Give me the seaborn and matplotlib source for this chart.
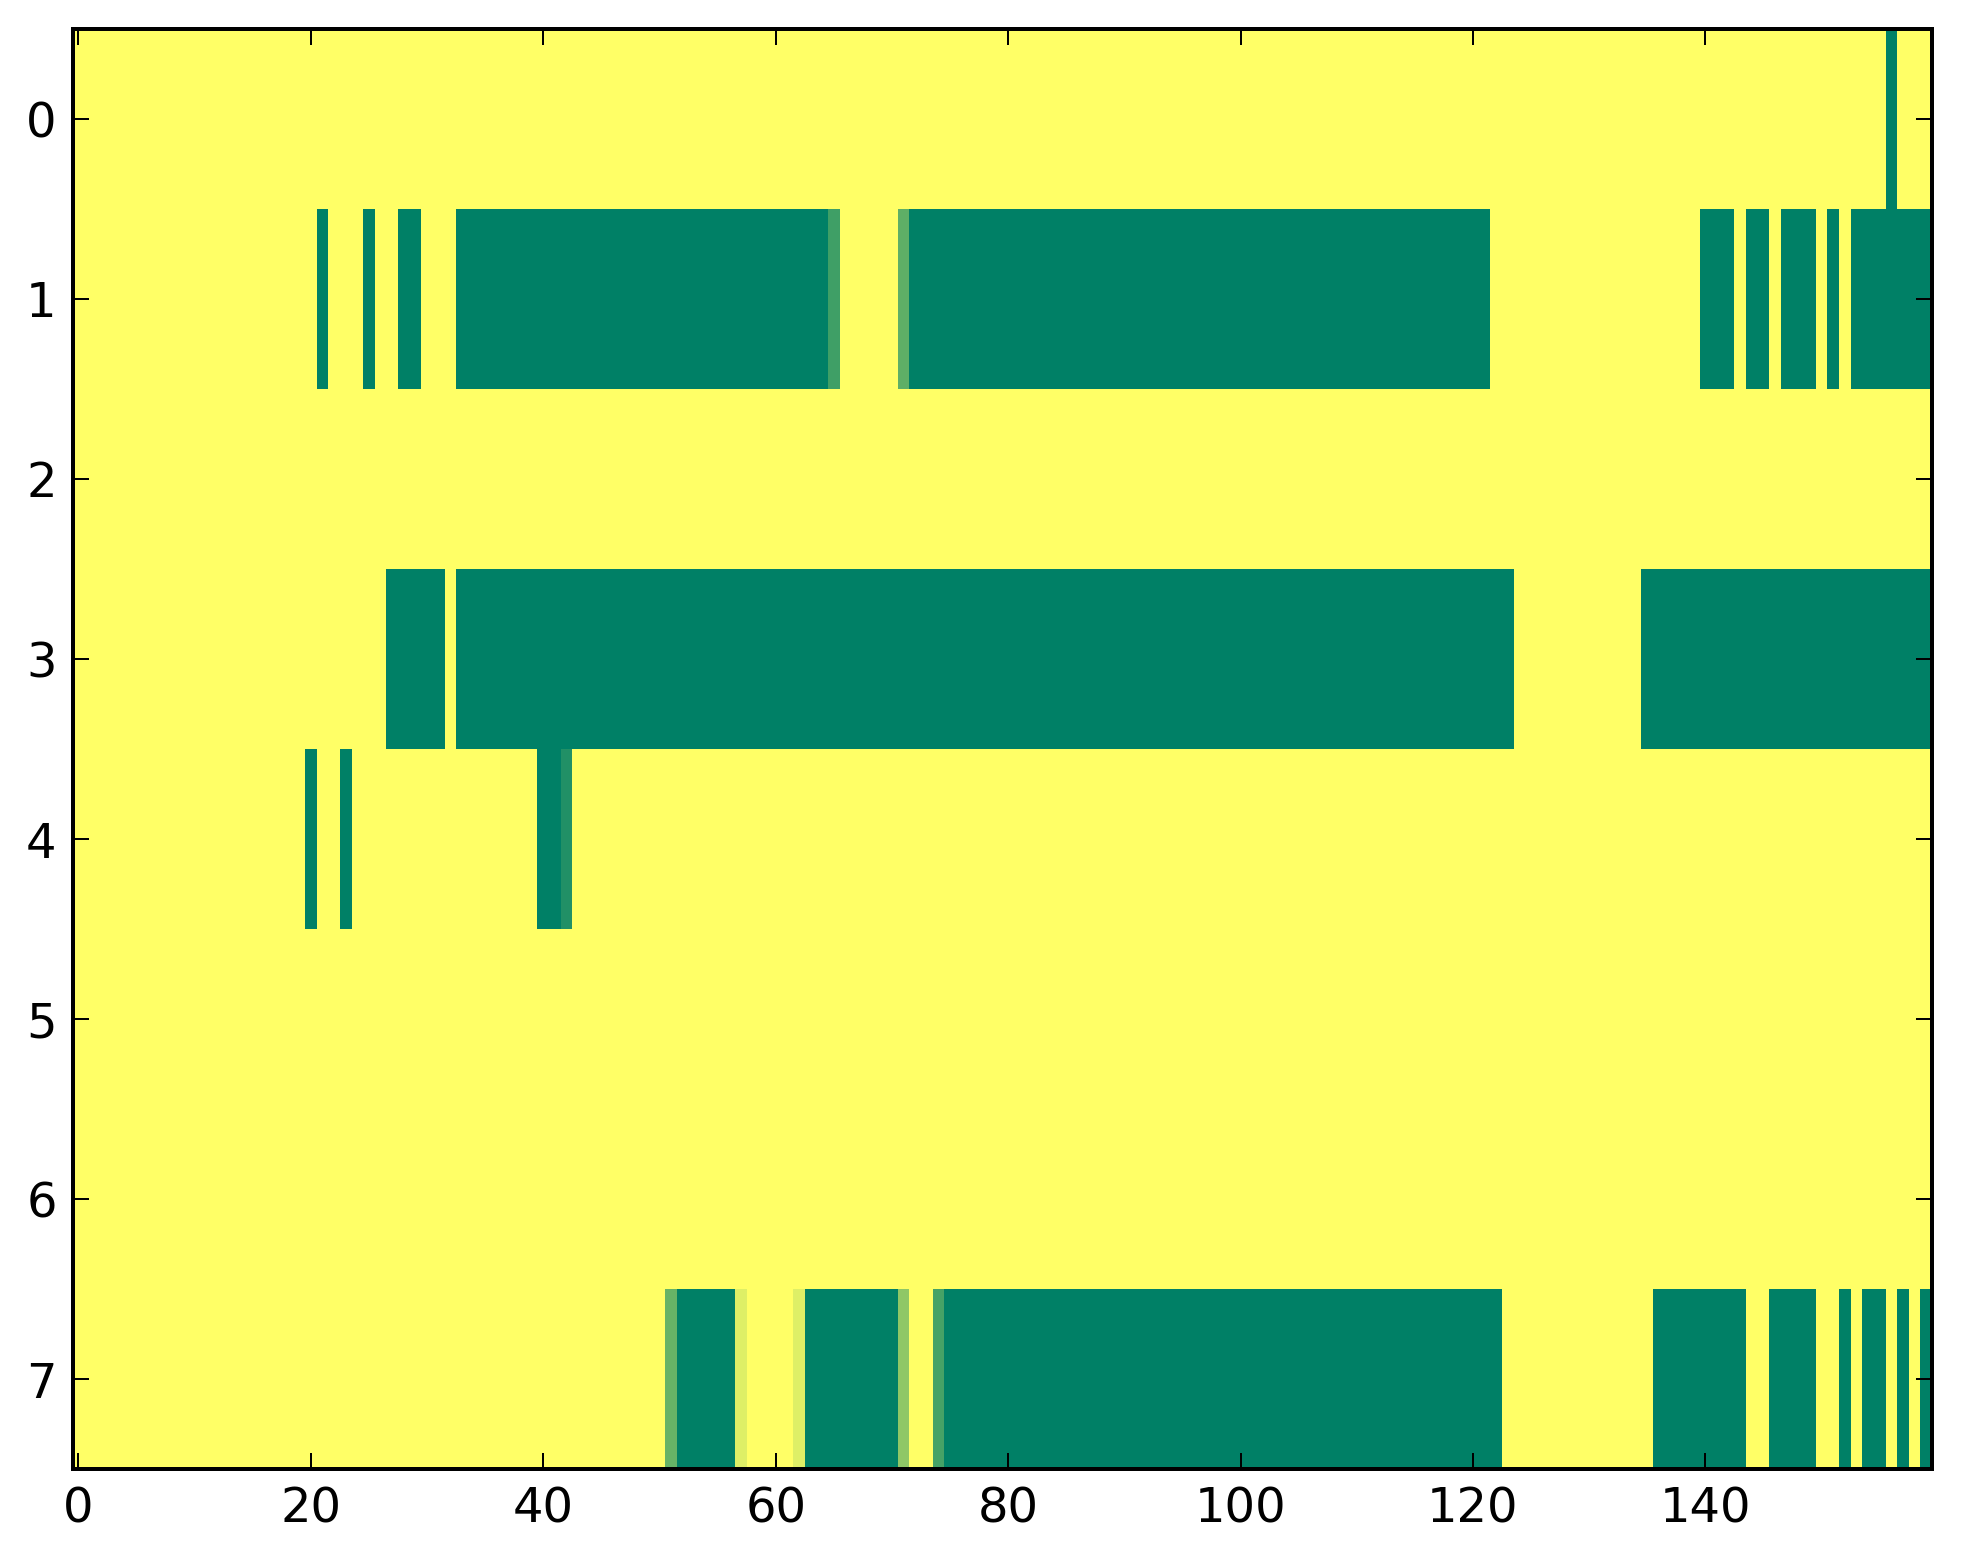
import matplotlib
matplotlib.use("Agg")
import matplotlib.pyplot as plt
import numpy as np
import pandas as pd
import seaborn as sns

# Run-length encoded rows: (value, number of columns)
row0 = [(0, 156), (1, 1), (0, 3)]
row1 = [(0, 21), (1, 1), (0, 3), (1, 1), (0, 2), (1, 2), (0, 3), (1, 32), (0.75, 1),
        (0, 5), (0.63, 1), (1, 50), (0, 18), (1, 3), (0, 1), (1, 2), (0, 1), (1, 3),
        (0, 1), (1, 1), (0, 1), (1, 7)]
row2 = [(0, 160)]
row3 = [(0, 27), (1, 5), (0, 1), (1, 91), (0, 11), (1, 25)]
row4 = [(0, 20), (1, 1), (0, 2), (1, 1), (0, 16), (1, 2), (0.87, 1), (0, 117)]
row5 = [(0, 160)]
row6 = [(0, 160)]
row7 = [(0, 51), (0.6, 1), (1, 5), (0.13, 1), (0, 4), (0.13, 1), (1, 8), (0.44, 1),
        (0, 2), (0.73, 1), (1, 48), (0, 13), (1, 8), (0, 2), (1, 4), (0, 2), (1, 1),
        (0, 1), (1, 2), (0, 1), (1, 1), (0, 1), (1, 1)]

rows = [row0, row1, row2, row3, row4, row5, row6, row7]
x_tick_values = [0, 20, 40, 60, 80, 100, 120, 140]
y_tick_values = [0, 1, 2, 3, 4, 5, 6, 7]


def expand(runs):
    out = []
    for v, n in runs:
        out.extend([v] * n)
    return out


data = pd.DataFrame([expand(r) for r in rows])

DPI = 288
fig = plt.figure(figsize=(1963 / DPI, 1564 / DPI), dpi=DPI)
ax = fig.add_axes([0.0370, 0.0607, 0.9472, 0.9208])

sns.heatmap(data, cmap="summer_r", vmin=0, vmax=1, cbar=False, ax=ax,
            xticklabels=False, yticklabels=False, linewidths=0, rasterized=True)

ax.set_xticks(np.array(x_tick_values) + 0.5)
ax.set_xticklabels([str(v) for v in x_tick_values], rotation=0, fontsize=12,
                   family="DejaVu Sans")
ax.set_yticks(np.array(y_tick_values) + 0.5)
ax.set_yticklabels([str(v) for v in y_tick_values], rotation=0, fontsize=12,
                   family="DejaVu Sans")

for s in ax.spines.values():
    s.set_visible(True)
    s.set_linewidth(1.0)
    s.set_color("black")

ax.tick_params(direction="in", top=True, right=True, bottom=True, left=True,
               length=4, width=0.5, pad=4, colors="black", labelsize=12)
ax.set_xlabel("")
ax.set_ylabel("")

fig.savefig("out.png", dpi=DPI)
